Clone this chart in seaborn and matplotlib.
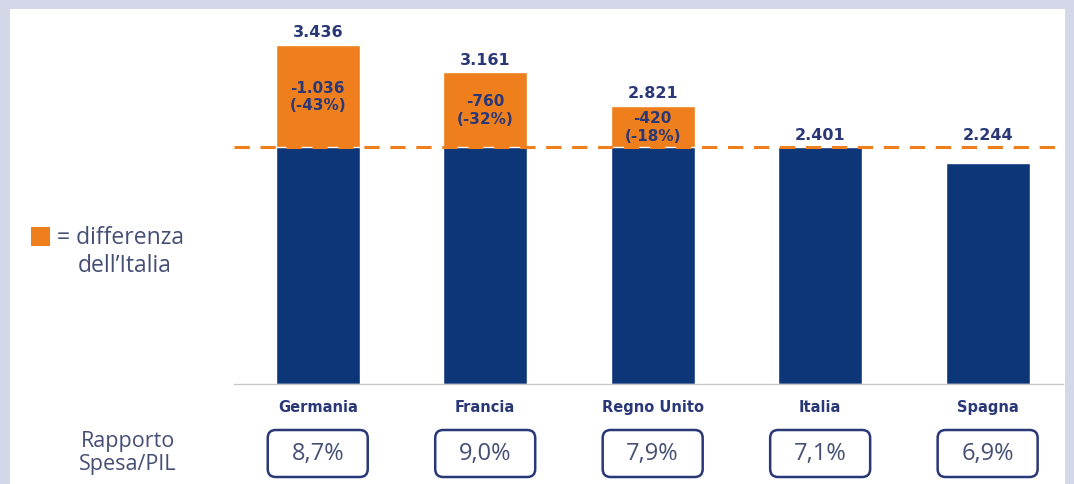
import matplotlib
matplotlib.use("Agg")
import matplotlib.pyplot as plt
import matplotlib.transforms as mtransforms
from matplotlib.patches import FancyBboxPatch, Rectangle
import seaborn as sns

# ---------------------------
# Data (spesa per paese, Italia come riferimento)
# ---------------------------
countries = ["Germania", "Francia", "Regno Unito", "Italia", "Spagna"]
spesa = [3436, 3161, 2821, 2401, 2244]
diff_labels = ["-1.036\n(-43%)", "-760\n(-32%)", "-420\n(-18%)", "", ""]
rapporto = ["8,7%", "9,0%", "7,9%", "7,1%", "6,9%"]
ref_country = "Italia"

NAVY = "#0d3678"
ORANGE = "#ee7f1c"
TEXT_NAVY = "#2a3878"
TEXT_GREY = "#454f75"
BG = "#d4d7e8"

sns.set_theme(style="white")
plt.rcParams["font.family"] = ["DejaVu Sans"]

ref_val = spesa[countries.index(ref_country)]
base_vals = [min(v, ref_val) for v in spesa]

fig = plt.figure(figsize=(10.74, 4.85), dpi=100)
fig.patch.set_facecolor(BG)
# white inner panel (behind everything)
fig.patches.append(Rectangle((10 / 1074, 0), 1055 / 1074, 475 / 485,
                             transform=fig.transFigure, facecolor="white",
                             edgecolor="none", zorder=-10))

ax = fig.add_axes([234 / 1074, 1 - 385 / 485, 829 / 1074, 365 / 485])
ax.set_facecolor("none")

# orange = full value, navy = part up to Italia
sns.barplot(x=countries, y=spesa, color=ORANGE, width=0.5, saturation=1, ax=ax)
sns.barplot(x=countries, y=base_vals, color=NAVY, width=0.5, saturation=1, ax=ax)

ax.set_xlim(-0.5, 4.45)
ax.set_ylim(0, 3700)
ax.axhline(ref_val, color=ORANGE, lw=2.2, ls=(0, (5, 3.5)), zorder=5)

# value labels above bars (not lower than the Italia line), differences inside orange part
for i, v in enumerate(spesa):
    ax.annotate(f"{v:,}".replace(",", "."), (i, max(v, ref_val)), xytext=(0, 4),
                textcoords="offset points", ha="center", va="bottom",
                fontsize=11.5, fontweight="bold", color=TEXT_NAVY, zorder=6)
    if diff_labels[i]:
        ax.text(i, (v + ref_val) / 2, diff_labels[i], ha="center", va="center",
                fontsize=11, fontweight="bold", color=TEXT_NAVY,
                linespacing=1.2, zorder=6)

# axes styling
for s in ["top", "right", "left"]:
    ax.spines[s].set_visible(False)
ax.spines["bottom"].set_color("#c8c8c8")
ax.spines["bottom"].set_linewidth(1)
ax.set_yticks([])
ax.set_xlabel("")
ax.set_ylabel("")
ax.set_xticks(range(len(countries)))
ax.set_xticklabels(countries, fontsize=10.5, fontweight="bold", color=TEXT_NAVY)
ax.tick_params(axis="x", which="major", length=0, pad=11)
ax.set_xticks([i - 0.5 for i in range(len(countries))], minor=True)
ax.tick_params(axis="x", which="minor", length=3, color="#c8c8c8", width=1)

# Rapporto Spesa/PIL boxes
blend = mtransforms.blended_transform_factory(ax.transData, fig.transFigure)
for i, r in enumerate(rapporto):
    cx = ax.transData.transform((i, 0))[0] / fig.dpi
    fig.patches.append(FancyBboxPatch((cx - 0.5, 0.07), 1.0, 0.47,
                                      boxstyle="round,pad=0,rounding_size=0.08",
                                      transform=fig.dpi_scale_trans,
                                      facecolor="none", edgecolor=TEXT_NAVY,
                                      lw=1.8, zorder=3))
    ax.text(i, 31 / 485, r, transform=blend, ha="center", va="center",
            fontsize=17, color=TEXT_GREY, family="Open Sans", zorder=4)

fig.text(128 / 1074, 1 - 453 / 485, "Rapporto\nSpesa/PIL", ha="center",
         va="center", fontsize=15.5, color=TEXT_GREY, family="Open Sans",
         linespacing=1.15)

# legend
fig.patches.append(Rectangle((31 / 1074, 1 - 247 / 485), 19 / 1074, 19 / 485,
                             transform=fig.transFigure, facecolor=ORANGE,
                             edgecolor="none", zorder=3))
fig.text(57 / 1074, 1 - 238 / 485, "= differenza", ha="left", va="center",
         fontsize=16.5, color=TEXT_GREY, family="Open Sans")
fig.text(125 / 1074, 1 - 266 / 485, "dell\u2019Italia", ha="center", va="center",
         fontsize=16.5, color=TEXT_GREY, family="Open Sans")

fig.savefig("out.png", dpi=100, facecolor=fig.get_facecolor())
